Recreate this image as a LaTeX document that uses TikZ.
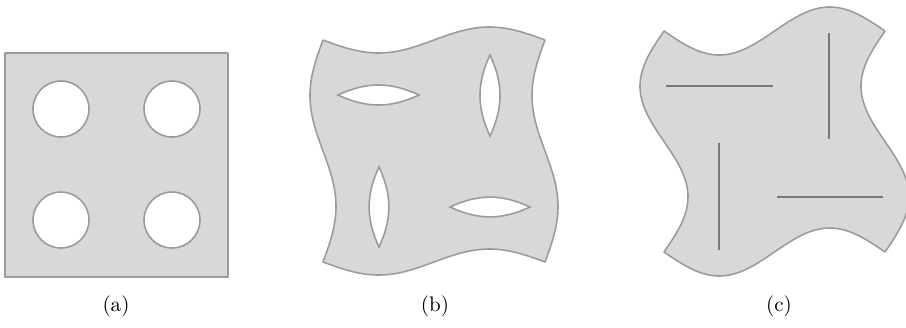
\documentclass[tikz,border=0pt]{standalone}
\usepackage{tikz}
\usetikzlibrary{positioning}
\definecolor{sheet_fill}{RGB}{216,216,216}
\definecolor{sheet_edge}{RGB}{155,155,155}
\definecolor{slit_line}{RGB}{120,120,120}
\tikzset{
sheet/.style={fill=sheet_fill, draw=sheet_edge, line width=0.75pt, line join=round},
hole/.style={fill=white, draw=sheet_edge, line width=0.75pt},
slit/.style={draw=slit_line, line width=0.9pt},
panel_label/.style={inner sep=0pt, anchor=center}
}

\begin{document}
\begin{tikzpicture}[x=0.475pt, y=-0.475pt]
    \useasboundingbox (0,0) rectangle (906,327);
    % (a) plain sheet with round holes
    \draw[sheet] (5,53) rectangle (228,277);
    \foreach \cx in {61,172}
        \foreach \cy in {109,220}
            \draw[hole] (\cx,\cy) circle [radius=28];
    % (b) wavy sheet with lens holes
    \draw[sheet] plot[domain=0:1, samples=40, smooth] ({323+222*\x},{40+13*sin(360*\x)})
        -- plot[domain=0:1, samples=40, smooth] ({545-13*sin(360*\x)},{40+222*\x})
        -- plot[domain=1:0, samples=40, smooth] ({323+222*\x},{262+13*sin(360*\x)})
        -- plot[domain=1:0, samples=40, smooth] ({323-13*sin(360*\x)},{40+222*\x}) -- cycle;
    \draw[hole] (338,95) to[bend left=25] (419,95) to[bend left=25] (338,95) -- cycle;
    \draw[hole] (450,207) to[bend left=25] (530,207) to[bend left=25] (450,207) -- cycle;
    \draw[hole] (490,55) to[bend left=25] (490,136) to[bend left=25] (490,55) -- cycle;
    \draw[hole] (379,167) to[bend left=25] (379,247) to[bend left=25] (379,167) -- cycle;
    % (c) strongly rotated sheet with closed slits
    \draw[sheet] plot[domain=0:1, samples=40, smooth] ({664+221*\x},{31+24*sin(360*\x)})
        -- plot[domain=0:1, samples=40, smooth] ({885-24*sin(360*\x)},{31+221*\x})
        -- plot[domain=1:0, samples=40, smooth] ({664+221*\x},{252+24*sin(360*\x)})
        -- plot[domain=1:0, samples=40, smooth] ({664-24*sin(360*\x)},{31+221*\x}) -- cycle;
    \coordinate (s1a) at (666,86);  \coordinate (s1b) at (773,86);
    \coordinate (s2a) at (829,33);  \coordinate (s2b) at (829,139);
    \coordinate (s3a) at (719,143); \coordinate (s3b) at (719,250);
    \coordinate (s4a) at (777,197); \coordinate (s4b) at (883,197);
    \draw[slit] (s1a) -- (s1b);
    \draw[slit] (s2a) -- (s2b);
    \draw[slit] (s3a) -- (s3b);
    \draw[slit] (s4a) -- (s4b);
    % captions
    \node[panel_label] (label_a) at (116,306) {(a)};
    \node[panel_label] (label_b) at (435,306) {(b)};
    \node[panel_label] (label_c) at (779,306) {(c)};
\end{tikzpicture}
\end{document}
